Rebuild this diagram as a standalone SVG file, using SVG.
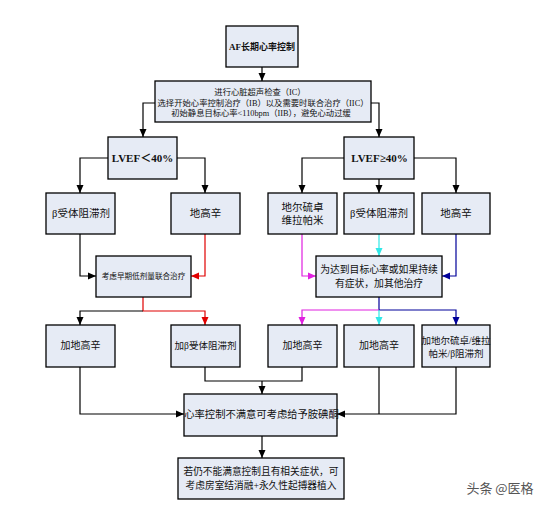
<svg xmlns="http://www.w3.org/2000/svg" width="550" height="508" viewBox="0 0 550 508">
<defs>
<style>
.box{fill:#E6EBF5;stroke:#000;stroke-width:1.3}
.t{font-family:"Liberation Serif","Noto Sans CJK SC",serif;fill:#111;text-anchor:middle}
.c{fill:none;stroke-width:1.2}
.k{stroke:#000;marker-end:url(#ak)}
.r{stroke:#E00000;marker-end:url(#ar)}
.m{stroke:#E020E0;marker-end:url(#am)}
.cy{stroke:#30E8E8;marker-end:url(#ac)}
.n{stroke:#000099;marker-end:url(#an)}
.nm{marker-end:none}
</style>
<marker id="ak" markerUnits="userSpaceOnUse" markerWidth="8" markerHeight="8" refX="8" refY="4" orient="auto"><path d="M0,0.5 L8,4 L0,7.5 z" fill="#000"/></marker>
<marker id="ar" markerUnits="userSpaceOnUse" markerWidth="8" markerHeight="8" refX="8" refY="4" orient="auto"><path d="M0,0.5 L8,4 L0,7.5 z" fill="#E00000"/></marker>
<marker id="am" markerUnits="userSpaceOnUse" markerWidth="8" markerHeight="8" refX="8" refY="4" orient="auto"><path d="M0,0.5 L8,4 L0,7.5 z" fill="#E020E0"/></marker>
<marker id="ac" markerUnits="userSpaceOnUse" markerWidth="8" markerHeight="8" refX="8" refY="4" orient="auto"><path d="M0,0.5 L8,4 L0,7.5 z" fill="#30E8E8"/></marker>
<marker id="an" markerUnits="userSpaceOnUse" markerWidth="8" markerHeight="8" refX="8" refY="4" orient="auto"><path d="M0,0.5 L8,4 L0,7.5 z" fill="#000099"/></marker>
</defs>
<rect width="550" height="508" fill="#fff"/>
<g id="connectors">
<path class="c k" d="M262,67 V81"/>
<path class="c k" d="M155,103 H143 V137"/>
<path class="c k" d="M371,103 H379 V137"/>
<path class="c k" d="M108,158 H80 V193"/>
<path class="c k" d="M177,158 H205 V193"/>
<path class="c k" d="M80,234 V276 H96"/>
<path class="c r" d="M205,234 V276 H191"/>
<path class="c k" d="M344,158 H302 V193"/>
<path class="c k" d="M379,179 V193"/>
<path class="c k" d="M414,158 H456 V193"/>
<path class="c m" d="M302,234 V276 H316"/>
<path class="c cy" d="M379,234 V256"/>
<path class="c n" d="M456,234 V276 H442"/>
<path class="c r" d="M143,297 V311 H205 V325"/>
<path class="c k" d="M143,311 H80 V325"/>
<path class="c n" d="M379,297 V310 H456 V325"/>
<path class="c m" d="M379,310 H302 V325"/>
<path class="c cy" d="M379,310 V325"/>
<path class="c k nm" d="M205,367 V381 H302 V367"/>
<path class="c k" d="M262,381 V394"/>
<path class="c k" d="M80,367 V414 H184"/>
<path class="c k" d="M456,367 V414 H337"/>
<path class="c k nm" d="M379,367 V414"/>
<path class="c k" d="M262,436 V458"/>
</g>
<g id="n_top"><rect class="box" x="226" y="26" width="72" height="41"/><text class="t" x="262" y="50" font-size="9" font-weight="bold">AF长期心率控制</text></g>
<g id="n_ic"><rect class="box" x="155" y="81" width="216" height="41"/>
<text class="t" x="260" y="95" font-size="8.3">进行心脏超声检查（IC）</text>
<text class="t" x="263" y="105.5" font-size="8.3" textLength="211">选择开始心率控制治疗（IB）以及需要时联合治疗（IIC）</text>
<text class="t" x="261" y="116" font-size="8.3">初始静息目标心率&lt;110bpm（IIB），避免心动过缓</text></g>
<g id="n_lvef_lt"><rect class="box" x="108" y="137" width="69" height="42"/><text class="t" x="142.5" y="162" font-size="11" font-weight="bold">LVEF＜40%</text></g>
<g id="n_lvef_ge"><rect class="box" x="344" y="137" width="70" height="42"/><text class="t" x="379.5" y="162" font-size="11" font-weight="bold">LVEF≥40%</text></g>
<g id="n_beta1"><rect class="box" x="46" y="193" width="69" height="41"/><text class="t" x="81" y="217" font-size="10.5">β受体阻滞剂</text></g>
<g id="n_dig1"><rect class="box" x="171" y="193" width="69" height="41"/><text class="t" x="205.5" y="217" font-size="10.5">地高辛</text></g>
<g id="n_dil"><rect class="box" x="268" y="193" width="69" height="41"/><text class="t" x="302.5" y="211" font-size="10.5">地尔硫卓</text><text class="t" x="302.5" y="224" font-size="10.5">维拉帕米</text></g>
<g id="n_beta2"><rect class="box" x="344" y="193" width="70" height="41"/><text class="t" x="379" y="217" font-size="10.5">β受体阻滞剂</text></g>
<g id="n_dig2"><rect class="box" x="422" y="193" width="68" height="41"/><text class="t" x="456" y="217" font-size="10.5">地高辛</text></g>
<g id="n_combo"><rect class="box" x="96" y="256" width="95" height="41"/><text class="t" x="143.5" y="279" font-size="7.6">考虑早期低剂量联合治疗</text></g>
<g id="n_other"><rect class="box" x="316" y="256" width="126" height="41"/><text class="t" x="379" y="273" font-size="9.8">为达到目标心率或如果持续</text><text class="t" x="379" y="287" font-size="9.8">有症状，加其他治疗</text></g>
<g id="n_adddig1"><rect class="box" x="46" y="325" width="69" height="42"/><text class="t" x="80.5" y="349" font-size="10">加地高辛</text></g>
<g id="n_addbeta"><rect class="box" x="171" y="325" width="69" height="42"/><text class="t" x="205.5" y="349" font-size="9.5">加β受体阻滞剂</text></g>
<g id="n_adddig2"><rect class="box" x="268" y="325" width="69" height="42"/><text class="t" x="302.5" y="349" font-size="10">加地高辛</text></g>
<g id="n_adddig3"><rect class="box" x="344" y="325" width="70" height="42"/><text class="t" x="379" y="349" font-size="10">加地高辛</text></g>
<g id="n_adddil"><rect class="box" x="422" y="325" width="68" height="42"/><text class="t" x="456" y="344" font-size="9.5">加地尔硫卓/维拉</text><text class="t" x="456" y="357" font-size="9.5">帕米/β阻滞剂</text></g>
<g id="n_amio"><rect class="box" x="184" y="394" width="153" height="42"/><text class="t" x="261.5" y="418" font-size="10.3">心率控制不满意可考虑给予胺碘酮</text></g>
<g id="n_ablate"><rect class="box" x="178" y="458" width="166" height="41"/><text class="t" x="261" y="475" font-size="9.7">若仍不能满意控制且有相关症状，可</text><text class="t" x="261" y="489" font-size="9.7">考虑房室结消融+永久性起搏器植入</text></g>
<text x="500" y="493" font-family="'Noto Sans CJK SC',sans-serif" font-size="13" fill="#555" text-anchor="middle">头条 @医格</text>
</svg>
